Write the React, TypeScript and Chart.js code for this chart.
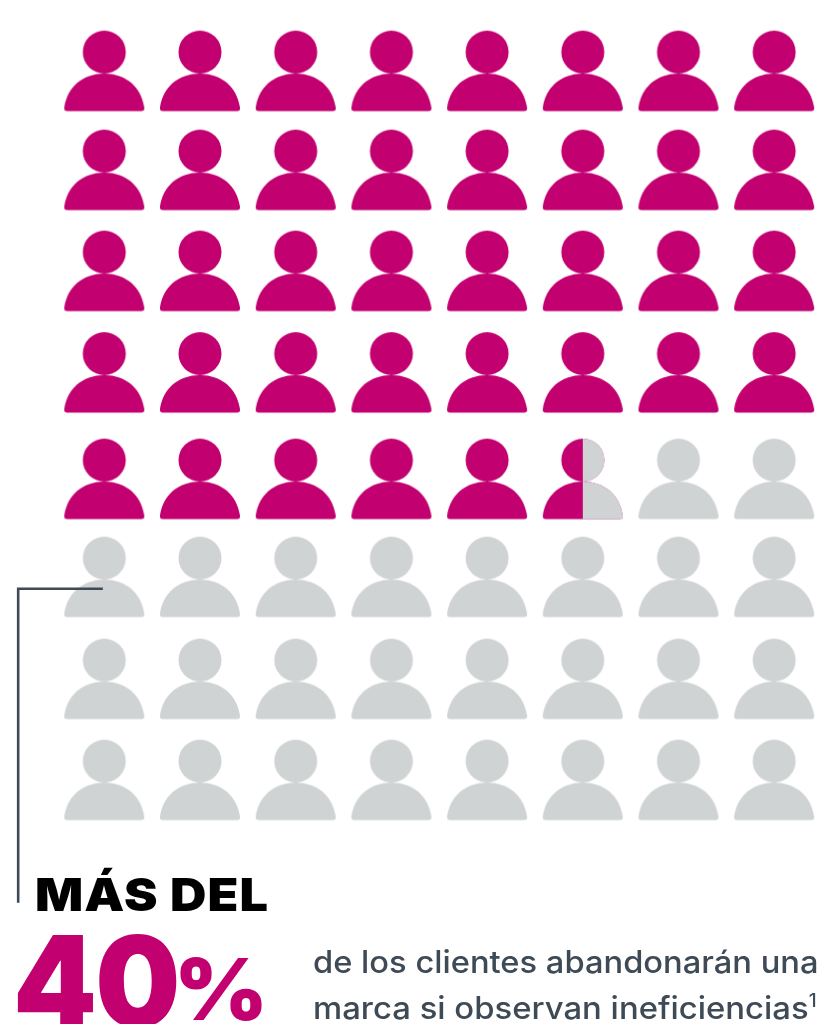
import React, { useEffect, useRef } from "react";
import { Chart, registerables } from "chart.js";

Chart.register(...registerables);

const columns = [0, 1, 2, 3, 4, 5, 6, 7];
const rows = [0, 0.98, 1.98, 2.985, 4.04, 5.01, 6.02, 7.02];
const filledPeople = 37.5;
const leaderX = [-0.015, -0.9, -0.9];
const leaderY = [5.13, 5.13, 8.24];
const headline = "MÁS DEL";
const bigNumber = "40";
const bigUnit = "%";
const captionLines = ["de los clientes abandonarán una", "marca si observan ineficiencias"];
const footnote = "1";

const PINK = "#C2006F";
const GREY = "#D0D3D4";
const SLATE = "#3E4A55";

function personPath(ctx: CanvasRenderingContext2D) {
  const cx = 50, top = 10;
  ctx.beginPath();
  ctx.arc(cx, top + 21.5, 21.5, 0, Math.PI * 2);
  ctx.closePath();
  const bodyTop = top + 43, bottom = top + 80.6, rx = 40;
  ctx.moveTo(cx - rx + 3, bottom);
  ctx.quadraticCurveTo(cx - rx - 0.4, bottom, cx - rx, bottom - 3.5);
  ctx.bezierCurveTo(cx - rx + 3, bottom - 24, cx - 22, bodyTop, cx, bodyTop);
  ctx.bezierCurveTo(cx + 22, bodyTop, cx + rx - 3, bottom - 24, cx + rx, bottom - 3.5);
  ctx.quadraticCurveTo(cx + rx + 0.4, bottom, cx + rx - 3, bottom);
  ctx.closePath();
}

function makePerson(kind: "full" | "empty" | "half") {
  const c = document.createElement("canvas");
  c.width = 100;
  c.height = 100;
  const ctx = c.getContext("2d")!;
  personPath(ctx);
  ctx.fillStyle = kind === "empty" ? GREY : PINK;
  ctx.fill();
  if (kind === "half") {
    ctx.save();
    ctx.beginPath();
    ctx.rect(50, 0, 50, 100);
    ctx.clip();
    personPath(ctx);
    ctx.fillStyle = GREY;
    ctx.fill();
    ctx.restore();
  }
  return c;
}

const abs = (o: React.CSSProperties): React.CSSProperties => ({ position: "absolute", whiteSpace: "nowrap", margin: 0, transformOrigin: "left top", ...o });

export default function App() {
  const ref = useRef<HTMLCanvasElement>(null);
  useEffect(() => {
    document.body.style.margin = "0";
    const full = makePerson("full");
    const empty = makePerson("empty");
    const half = makePerson("half");
    const people = rows.flatMap((y, r) =>
      columns.map((x, c) => {
        const n = r * columns.length + c;
        const kind = n + 1 <= filledPeople ? "full" : n < filledPeople ? "half" : "empty";
        return { x, y, kind };
      })
    );
    const chart = new Chart(ref.current!, {
      type: "scatter",
      data: {
        datasets: [
          {
            data: people as any,
            pointStyle: ((ctx: any) => {
              const k = (ctx.raw || {}).kind;
              return k === "full" ? full : k === "half" ? half : empty;
            }) as any,
            pointRadius: 40,
            order: 2,
          },
          {
            type: "line",
            data: leaderX.map((x, i) => ({ x, y: leaderY[i] })),
            borderColor: SLATE,
            borderWidth: 2.6,
            pointRadius: 0,
            fill: false,
            tension: 0,
            clip: false,
            order: 1,
          } as any,
        ],
      },
      options: {
        animation: false,
        responsive: false,
        layout: { padding: 0, autoPadding: false },
        plugins: { legend: { display: false }, tooltip: { enabled: false } },
        scales: {
          x: { type: "linear", display: false, min: -1.09, max: 7.5 },
          y: { type: "linear", display: false, reverse: true, min: -0.699, max: 9.44 },
        },
      },
    });
    return () => chart.destroy();
  }, []);

  return (
    <div style={{ position: "relative", width: 822, height: 1024, overflow: "hidden", background: "#fff", fontFamily: "Inter, sans-serif" }}>
      <canvas ref={ref} width={822} height={1024} style={{ position: "absolute", left: 0, top: 0, width: 822, height: 1024 }} />
      <div style={abs({ left: 35, top: 868, fontSize: 45, lineHeight: "54px", fontWeight: 900, color: "#000", letterSpacing: 1, transform: "scaleX(1.12)" })}>{headline}</div>
      <div style={abs({ left: 13, top: 906, fontSize: 126, lineHeight: "150px", fontWeight: 900, color: PINK, letterSpacing: -2, transform: "scaleX(0.95)" })}>{bigNumber}</div>
      <div style={abs({ left: 174, top: 940, fontSize: 85, lineHeight: "100px", fontWeight: 900, color: PINK, transform: "scaleX(1.06)" })}>{bigUnit}</div>
      <div style={abs({ left: 313, top: 942, fontSize: 31, lineHeight: "40px", fontWeight: 500, color: SLATE, transform: "scaleX(1.054)" })}>{captionLines[0]}</div>
      <div style={abs({ left: 313, top: 988, fontSize: 31, lineHeight: "40px", fontWeight: 500, color: SLATE, transform: "scaleX(1.06)" })}>
        {captionLines[1]}
        <sup style={{ fontSize: 18, lineHeight: 0, verticalAlign: "baseline", position: "relative", top: -12 }}>{footnote}</sup>
      </div>
    </div>
  );
}
